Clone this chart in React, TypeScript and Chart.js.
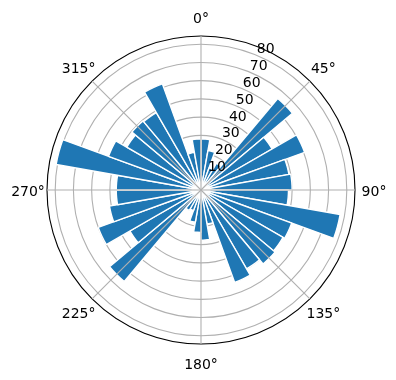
import { useEffect, useRef } from 'react';
import { Chart, registerables } from 'chart.js';

Chart.register(...registerables);

// Sectors of 10 degrees, clockwise from north, starting at 0°
const sectorStarts = [
  0, 10, 20, 30, 40, 50, 60, 70, 80, 90, 100, 110, 120, 130, 140, 150, 160, 170,
  180, 190, 200, 210, 220, 230, 240, 250, 260, 270, 280, 290, 300, 310, 320, 330, 340, 350,
];
const sectorValues = [
  28, 22, 13, 17, 65.5, 45, 60.5, 49, 50, 48, 77.5, 53, 52, 53, 50, 54, 19, 27.5,
  23.3, 18, 12, 13, 65.5, 45, 60, 51, 46.5, 46.5, 80.7, 54, 47, 49.5, 49, 62, 21, 28,
];
const radialTicks = [10, 20, 30, 40, 50, 60, 70, 80];
const thetaTicks = [0, 45, 90, 135, 180, 225, 270, 315];
const R_LIMIT = 84.5;

const W = 390;
const H = 380;
const OUTER_PX = 154;
const SCALE_MAX = (R_LIMIT * (Math.min(W, H) / 2)) / OUTER_PX;
const FONT = '14px "DejaVu Sans", sans-serif';

const polarDecor = {
  id: 'polarDecor',
  afterDatasetsDraw(chart: any) {
    const s = chart.scales.r;
    const ctx = chart.ctx;
    const cx = s.xCenter;
    const cy = s.yCenter;
    const R = s.getDistanceFromCenterForValue(R_LIMIT);
    ctx.save();
    ctx.strokeStyle = '#b0b0b0';
    ctx.lineWidth = 1.1;
    for (const deg of thetaTicks) {
      const a = (deg * Math.PI) / 180;
      ctx.beginPath();
      ctx.moveTo(cx, cy);
      ctx.lineTo(cx + R * Math.sin(a), cy - R * Math.cos(a));
      ctx.stroke();
    }
    ctx.restore();
  },
  afterDraw(chart: any) {
    const s = chart.scales.r;
    const ctx = chart.ctx;
    const cx = s.xCenter;
    const cy = s.yCenter;
    ctx.save();
    ctx.fillStyle = '#000';
    ctx.font = FONT;
    // theta labels
    ctx.textAlign = 'center';
    ctx.textBaseline = 'alphabetic';
    const Rl = s.getDistanceFromCenterForValue(R_LIMIT) + 19;
    for (const deg of thetaTicks) {
      const a = (deg * Math.PI) / 180;
      const txt = `${deg}°`;
      const m = ctx.measureText(txt);
      const asc = m.actualBoundingBoxAscent;
      const desc = m.actualBoundingBoxDescent;
      const x = cx + Rl * Math.sin(a);
      const y = cy - Rl * Math.cos(a) + (asc - desc) / 2;
      ctx.fillText(txt, x, y);
    }
    // radial labels at 22.5°
    ctx.textAlign = 'left';
    const ra = (22.5 * Math.PI) / 180;
    for (const v of radialTicks) {
      const d = s.getDistanceFromCenterForValue(v);
      ctx.fillText(String(v), cx + d * Math.sin(ra), cy - d * Math.cos(ra) - 2);
    }
    ctx.restore();
  },
};

export default function App() {
  const ref = useRef<HTMLCanvasElement>(null);
  useEffect(() => {
    const chart = new Chart(ref.current as HTMLCanvasElement, {
      type: 'polarArea',
      data: {
        labels: sectorStarts.map((d) => `${d}°`),
        datasets: [
          {
            data: sectorValues,
            backgroundColor: '#1f77b4',
            borderColor: '#ffffff',
            borderWidth: 1.4,
          },
        ],
      },
      options: {
        responsive: false,
        devicePixelRatio: 1,
        animation: false,
        layout: { padding: 0 },
        plugins: { legend: { display: false }, tooltip: { enabled: false } },
        scales: {
          r: {
            type: 'radialLinear',
            min: 0,
            max: SCALE_MAX,
            startAngle: 0,
            z: 1,
            ticks: { display: false },
            afterBuildTicks: (scale: any) => {
              scale.ticks = [0, ...radialTicks, R_LIMIT].map((v) => ({ value: v }));
            },
            grid: {
              circular: true,
              color: (c: any) => (c.tick && c.tick.value === R_LIMIT ? '#000000' : '#b0b0b0'),
              lineWidth: 1.1,
            },
            angleLines: { display: false },
            pointLabels: { display: false },
          },
        },
      } as any,
      plugins: [polarDecor],
    });
    return () => chart.destroy();
  }, []);
  return (
    <canvas
      ref={ref}
      width={W}
      height={H}
      style={{ position: 'absolute', left: 6, top: 0, width: W, height: H }}
    />
  );
}
